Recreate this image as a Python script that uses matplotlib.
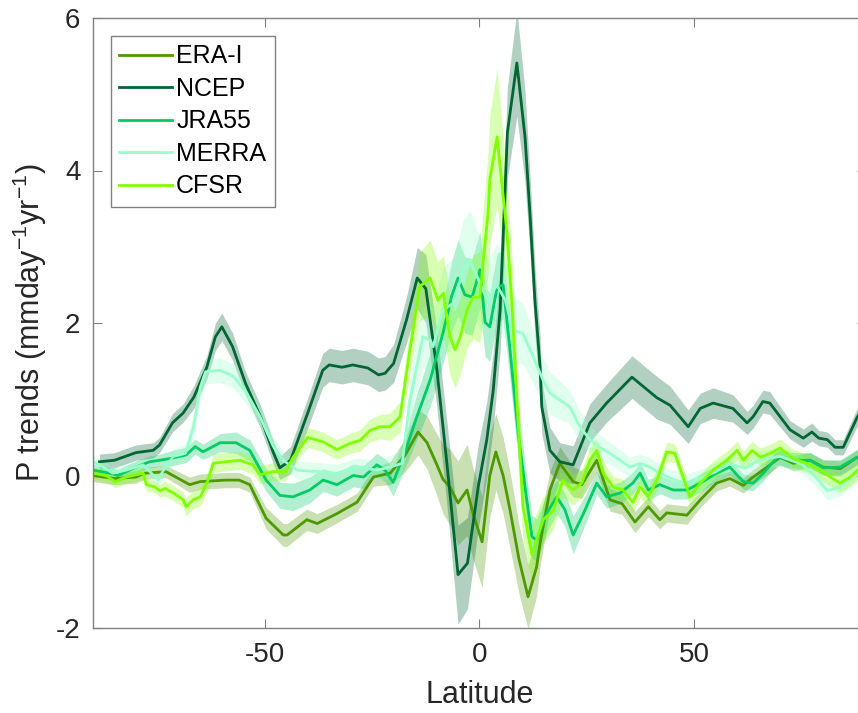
import numpy as np
import matplotlib
matplotlib.use("Agg")
import matplotlib.pyplot as plt

plt.rcParams["font.family"] = ["Liberation Sans", "DejaVu Sans"]
plt.rcParams["mathtext.fontset"] = "custom"
plt.rcParams["mathtext.rm"] = "Liberation Sans"
plt.rcParams["mathtext.it"] = "Liberation Sans:italic"
plt.rcParams["mathtext.default"] = "regular"
plt.rcParams["axes.unicode_minus"] = False

# ---- data ----
names = ["ERA-I", "NCEP", "JRA55", "MERRA", "CFSR"]
colors = ["#4d9900", "#006633", "#00cc66", "#99ffcc", "#80ff00"]

era_lat = [-90, -85, -80, -78, -73, -67.5, -65, -59, -56, -53.5, -49.7, -45.7, -44.8, -40.2, -37.8,
           -33.2, -28.5, -24.7, -20.8, -17.3, -14.3, -12.2, -10, -8.5, -6.9, -5, -2.9, -1.5, 0.6,
           2.4, 3.8, 5.5, 7.1, 9.2, 11.3, 13.3, 14.1, 16.4, 18.7, 21.8, 23.8, 27.3, 30.4, 33.2,
           36.2, 39.3, 42, 43.6, 48.3, 51.4, 55.2, 58.3, 61.4, 63.7, 67, 70, 73.1, 77, 80, 84, 88, 90]
era_val = [0.0, -0.04, -0.02, 0.03, 0.05, -0.12, -0.08, -0.06, -0.06, -0.12, -0.56, -0.78, -0.78,
           -0.58, -0.63, -0.5, -0.35, -0.02, 0.03, 0.27, 0.57, 0.43, 0.15, -0.05, -0.15, -0.36,
           -0.19, -0.5, -0.87, 0.0, 0.31, 0.0, -0.45, -1.1, -1.59, -1.2, -0.89, -0.19, 0.16, -0.08,
           -0.12, 0.2, -0.32, -0.37, -0.61, -0.41, -0.58, -0.49, -0.52, -0.32, -0.1, -0.04, -0.13,
           -0.02, 0.11, 0.24, 0.16, 0.2, 0.11, 0.09, 0.24, 0.2]
era_err = [0.08, 0.08, 0.08, 0.08, 0.08, 0.1, 0.1, 0.1, 0.1, 0.1, 0.14, 0.15, 0.15, 0.14, 0.13,
           0.12, 0.12, 0.12, 0.15, 0.22, 0.3, 0.35, 0.4, 0.45, 0.5, 0.55, 0.6, 0.6, 0.6,
           0.55, 0.5, 0.5, 0.5, 0.45, 0.42, 0.38, 0.3, 0.25, 0.22, 0.2, 0.18, 0.16, 0.15, 0.14,
           0.14, 0.13, 0.12, 0.12, 0.12, 0.1, 0.1, 0.1, 0.1, 0.1, 0.1, 0.1, 0.1, 0.1, 0.1, 0.1, 0.1, 0.1]

ncep_lat = [-88.5, -85, -80, -76, -74.5, -71.5, -69, -66.5, -63.5, -61.5, -60, -57.5, -54.5, -51,
            -48, -46.5, -44, -40, -36.5, -35, -32, -29.5, -26, -23.5, -22, -20, -17, -14.5, -12.5,
            -10, -7.5, -5, -2.8, -0.3, 1.7, 3.2, 4.8, 6.5, 8.7, 10.6, 11.8, 12.9, 14.1, 14.5, 16.4,
            18.7, 21.8, 25.7, 29.6, 35.5, 41.3, 44.4, 48.6, 51.4, 54.4, 59, 62.3, 63.7, 66, 67.6,
            72.3, 75.4, 77.4, 79, 81, 82.8, 84.7, 88, 90]
ncep_val = [0.18, 0.2, 0.3, 0.33, 0.4, 0.69, 0.82, 1.03, 1.42, 1.82, 1.95, 1.69, 1.21, 0.77, 0.3,
            0.1, 0.2, 0.82, 1.38, 1.45, 1.42, 1.45, 1.41, 1.32, 1.34, 1.47, 2.04, 2.59, 2.45, 1.43,
            0.11, -1.3, -1.15, -0.15, 0.47, 1.12, 2.17, 4.5, 5.41, 4.44, 3.39, 2.3, 1.43, 0.9, 0.33,
            0.18, 0.14, 0.69, 0.95, 1.29, 1.02, 0.92, 0.64, 0.88, 0.95, 0.88, 0.69, 0.77, 0.97, 0.95,
            0.6, 0.49, 0.57, 0.49, 0.47, 0.37, 0.37, 0.77, 0.95]
ncep_err = [0.1, 0.1, 0.1, 0.1, 0.1, 0.12, 0.12, 0.15, 0.15, 0.18, 0.18, 0.18, 0.15, 0.15, 0.15,
            0.15, 0.18, 0.2, 0.22, 0.22, 0.22, 0.22, 0.22, 0.22, 0.22, 0.25, 0.3, 0.4, 0.45, 0.5,
            0.55, 0.65, 0.6, 0.55, 0.5, 0.5, 0.55, 0.6, 0.7, 0.6, 0.5, 0.45, 0.4, 0.35, 0.3,
            0.25, 0.25, 0.25, 0.25, 0.28, 0.28, 0.25, 0.22, 0.2, 0.2, 0.18, 0.15, 0.15, 0.15, 0.15,
            0.12, 0.12, 0.12, 0.1, 0.1, 0.1, 0.1, 0.12, 0.12]

jra_lat = [-90, -86, -84.2, -80, -76.8, -74.4, -71.4, -68.3, -66.2, -64.4, -60.4, -56.7, -53.5,
           -49.7, -46.5, -43.4, -39.5, -36.4, -33.2, -29.4, -27, -23.9, -22, -20.1, -16.9, -14.6,
           -11.5, -8.5, -6.5, -5, -3.4, -1.7, 0.1, 1.3, 2.4, 4.1, 5.5, 7.1, 9, 11, 12.2, 13.3,
           15.6, 18, 19.9, 21.8, 24.2, 27.3, 29.6, 32.7, 35.7, 37.4, 39.3, 42, 45.1, 48.3, 51.4,
           55.2, 58.3, 61.4, 63.7, 66.1, 69.3, 72.3, 77, 80.1, 84, 87.9, 90]
jra_val = [0.07, 0.03, 0.0, 0.11, 0.18, 0.2, 0.23, 0.27, 0.38, 0.31, 0.43, 0.43, 0.33, -0.06,
           -0.26, -0.28, -0.19, -0.06, -0.12, 0.0, -0.02, 0.14, 0.07, -0.09, 0.38, 0.77, 1.25,
           1.87, 2.35, 2.59, 2.37, 2.34, 2.7, 2.01, 1.95, 2.47, 2.5, 1.65, 0.56, -0.32, -0.8,
           -0.85, -0.5, -0.28, -0.45, -0.78, -0.5, -0.1, -0.28, -0.23, -0.1, 0.03, -0.19, -0.12,
           -0.19, -0.19, -0.1, 0.03, 0.11, -0.08, -0.1, 0.03, 0.24, 0.2, 0.2, 0.1, 0.11, 0.24, 0.2]
jra_err = [0.08, 0.08, 0.08, 0.08, 0.08, 0.08, 0.1, 0.1, 0.1, 0.1, 0.12, 0.14, 0.14, 0.15,
           0.17, 0.18, 0.17, 0.15, 0.15, 0.15, 0.15, 0.15, 0.15, 0.18, 0.22, 0.3, 0.35,
           0.4, 0.45, 0.5, 0.5, 0.5, 0.5, 0.45, 0.45, 0.45, 0.45, 0.4, 0.35, 0.3, 0.28,
           0.28, 0.25, 0.22, 0.22, 0.25, 0.2, 0.15, 0.15, 0.14, 0.14, 0.14, 0.14, 0.12,
           0.12, 0.12, 0.12, 0.1, 0.1, 0.1, 0.1, 0.1, 0.1, 0.1, 0.1, 0.1, 0.1, 0.1, 0.1]

merra_lat = [-90, -88.4, -85.4, -82.3, -78.3, -76.4, -74.8, -73.6, -71.3, -68.5, -66.6, -65, -63.8,
             -60.4, -57.3, -54.2, -51.1, -48, -45.7, -42.5, -37.8, -33.2, -28.5, -23.9, -20.8,
             -18, -16.2, -13.2, -11.5, -10.8, -8.5, -6.1, -3.8, -2.2, 0.1, 2, 4, 6, 7.8, 10.1,
             12.5, 14.8, 16.4, 18.7, 21, 23.4, 25.7, 28, 30.4, 32.7, 35, 37.4, 39.7, 42, 45, 48,
             51, 55, 58, 62, 65, 70, 75, 78, 81, 84, 88, 90]
merra_val = [0.18, 0.14, 0.03, 0.07, 0.14, 0.03, -0.06, 0.07, 0.25, 0.29, 0.64, 1.16, 1.36, 1.38,
             1.3, 1.08, 0.77, 0.38, 0.2, 0.07, 0.05, 0.03, 0.11, 0.07, 0.11, 0.16, 0.99, 1.82,
             1.78, 1.69, 2.17, 2.26, 2.69, 2.83, 2.52, 2.28, 2.5, 2.3, 1.91, 1.86, 1.56, 1.25,
             1.08, 0.99, 0.9, 0.64, 0.47, 0.37, 0.29, 0.2, 0.11, 0.16, 0.11, 0.03, -0.05, -0.1,
             -0.05, 0.05, 0.15, 0.1, 0.2, 0.25, 0.15, 0.0, -0.2, -0.15, 0.05, 0.1]
merra_err = [0.08, 0.08, 0.08, 0.08, 0.08, 0.08, 0.08, 0.1, 0.1, 0.12, 0.14, 0.15, 0.16, 0.16,
             0.16, 0.15, 0.14, 0.12, 0.12, 0.12, 0.12, 0.12, 0.12, 0.13, 0.15, 0.2, 0.3, 0.4,
             0.45, 0.5, 0.55, 0.6, 0.65, 0.65, 0.6, 0.55, 0.55, 0.5, 0.45, 0.4, 0.35, 0.3,
             0.28, 0.25, 0.22, 0.2, 0.18, 0.16, 0.15, 0.14, 0.13, 0.12, 0.12, 0.12, 0.12, 0.12,
             0.12, 0.12, 0.12, 0.12, 0.12, 0.12, 0.12, 0.12, 0.12, 0.12, 0.12, 0.12]

cfsr_lat = [-90, -87, -84.8, -82.3, -78.3, -77.6, -75.6, -74.4, -73.2, -71.3, -69, -68.3, -66.7,
            -65, -63.2, -62, -59, -55.8, -52.8, -51.1, -48, -45.2, -43.4, -40, -36.4, -33.2,
            -30.2, -27.8, -25.5, -23.2, -20.8, -18.5, -16.2, -13.9, -11.5, -9.7, -8.4, -6.9,
            -5.7, -4.5, -2.9, -1.5, 0.1, 0.9, 2, 2.4, 4.1, 4.8, 6.4, 7.5, 8.7, 10.1, 12.2, 14.8,
            17.2, 19.4, 21.8, 23.8, 25.7, 27.3, 28.8, 31.1, 33.4, 35.7, 37.4, 39.3, 41.3, 43.6,
            45.5, 47.4, 49, 51.4, 54.4, 57.6, 60, 61.4, 63.5, 65.4, 67.7, 70, 73.1, 76.2, 79.3,
            81.7, 84, 86.3, 88.1, 90]
cfsr_val = [0.03, 0.0, -0.08, -0.02, 0.03, -0.12, -0.15, -0.2, -0.17, -0.23, -0.32, -0.41, -0.32,
            -0.28, -0.06, 0.16, 0.18, 0.2, 0.14, 0.01, 0.05, 0.05, 0.24, 0.5, 0.44, 0.34, 0.42,
            0.46, 0.59, 0.64, 0.64, 0.77, 1.65, 2.48, 2.59, 2.3, 2.39, 1.82, 1.65, 1.82, 2.17,
            2.34, 2.34, 2.83, 3.44, 3.88, 4.44, 4.05, 3.18, 2.3, 1.0, -0.4, -1.04, -0.58, -0.46,
            -0.06, -0.19, -0.1, 0.2, 0.33, 0.03, -0.15, -0.19, -0.35, -0.15, -0.28, -0.06, 0.31,
            0.29, -0.02, -0.28, -0.1, 0.07, 0.2, 0.33, 0.2, 0.33, 0.24, 0.29, 0.36, 0.22, 0.16,
            0.07, -0.02, -0.1, -0.02, 0.07, 0.1]
cfsr_err = [0.08, 0.08, 0.08, 0.08, 0.08, 0.08, 0.08, 0.08, 0.1, 0.1, 0.1, 0.12, 0.12,
            0.12, 0.12, 0.12, 0.12, 0.12, 0.12, 0.12, 0.12, 0.12, 0.12, 0.13, 0.13, 0.13,
            0.13, 0.14, 0.15, 0.16, 0.18, 0.2, 0.3, 0.45, 0.5, 0.5, 0.5, 0.5, 0.5, 0.5, 0.5,
            0.55, 0.6, 0.7, 0.8, 0.85, 0.9, 0.85, 0.7, 0.6, 0.5, 0.45, 0.4, 0.3, 0.25,
            0.22, 0.2, 0.18, 0.16, 0.15, 0.15, 0.14, 0.14, 0.14, 0.14, 0.13, 0.13, 0.13,
            0.12, 0.12, 0.12, 0.12, 0.12, 0.12, 0.12, 0.12, 0.12, 0.12, 0.12, 0.12, 0.12, 0.12,
            0.12, 0.12, 0.12, 0.12, 0.12, 0.12]

series = [
    (era_lat, era_val, era_err),
    (ncep_lat, ncep_val, ncep_err),
    (jra_lat, jra_val, jra_err),
    (merra_lat, merra_val, merra_err),
    (cfsr_lat, cfsr_val, cfsr_err),
]

x_ticks = [-50, 0, 50]
y_ticks = [-2, 0, 2, 4, 6]

# ---- figure ----
W, H = 858, 713
fig = plt.figure(figsize=(W / 100, H / 100), dpi=100, facecolor="white")
ax = fig.add_axes((93 / W, (H - 628) / H, 773 / W, 610 / H))

for name, col, (lat, val, err) in zip(names, colors, series):
    lat = np.asarray(lat, dtype=float)
    val = np.asarray(val, dtype=float)
    err = np.asarray(err, dtype=float)
    ax.fill_between(lat, val - err, val + err, color=col, alpha=0.3, linewidth=0)
    ax.plot(lat, val, color=col, lw=2.0, label=name)

ax.set_xlim(-90, 90)
ax.set_ylim(-2, 6)
ax.set_xticks(x_ticks)
ax.set_yticks(y_ticks)

txt = "#262626"
for sp in ax.spines.values():
    sp.set_color("#808080")
    sp.set_linewidth(1.0)
ax.tick_params(direction="in", length=6.5, width=0.8, color="#808080",
               top=True, right=True, labelsize=20, labelcolor=txt)
ax.tick_params(axis="x", pad=10)
ax.tick_params(axis="y", pad=9)

ax.set_xlabel("Latitude", fontsize=22, color=txt, labelpad=9)
ax.set_ylabel("P trends (mmday$^{-1}$yr$^{-1}$)", fontsize=22, color=txt, labelpad=5)

leg = ax.legend(loc="upper left", bbox_to_anchor=(0.0229, 0.971), borderaxespad=0,
                fontsize=18, handlelength=2.12, handletextpad=0.15, borderpad=0.35,
                labelspacing=0.34, fancybox=False, framealpha=1, edgecolor="#808080")
leg.get_frame().set_linewidth(1.0)
for t in leg.get_texts():
    t.set_color("black")

fig.savefig("out.png", dpi=100, facecolor="white")
